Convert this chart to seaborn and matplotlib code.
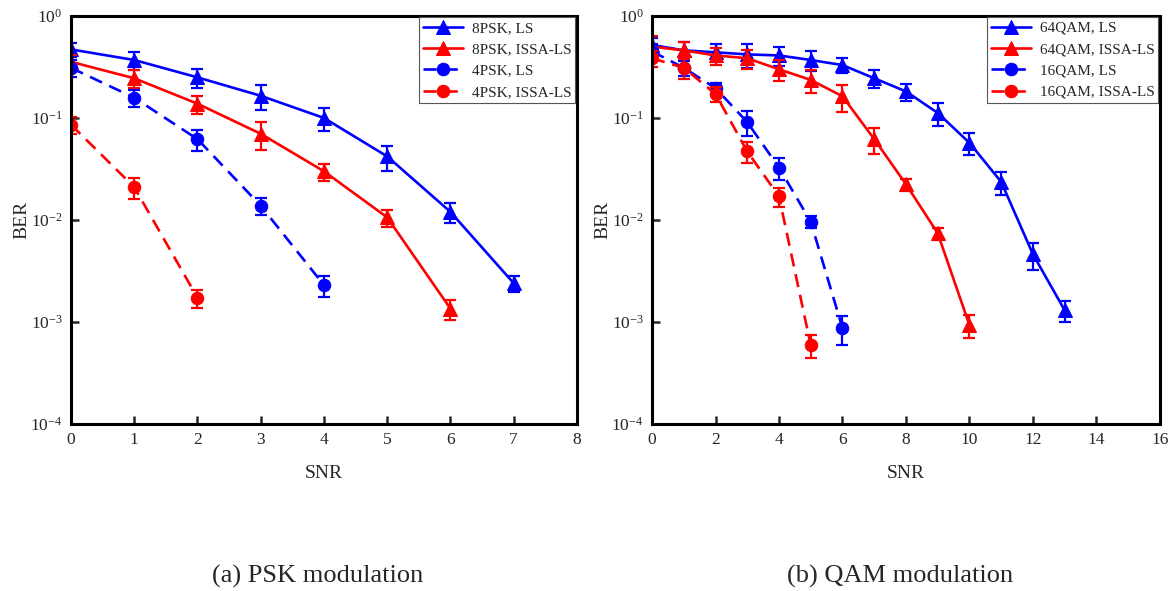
"""Two-panel BER vs SNR chart (PSK and QAM) with error bars, log y axis."""
import matplotlib

matplotlib.use("Agg")
import matplotlib.pyplot as plt  # noqa: E402
import matplotlib.ticker as mticker  # noqa: E402
import seaborn as sns  # noqa: E402

# ---- data -----------------------------------------------------------------
snr_8psk = [0, 1, 2, 3, 4, 5, 6, 7]
ber_8psk_ls = [0.47, 0.37, 0.25, 0.165, 0.10, 0.042, 0.0120, 0.0024]
err_8psk_ls = [0.075, 0.076, 0.055, 0.045, 0.025, 0.0115, 0.0026, 0.00045]
snr_8psk_issa = [0, 1, 2, 3, 4, 5, 6]
ber_8psk_issa = [0.355, 0.245, 0.138, 0.070, 0.030, 0.0106, 0.00135]
err_8psk_issa = [0.06, 0.047, 0.028, 0.021, 0.0057, 0.0020, 0.0003]

snr_4psk = [0, 1, 2, 3, 4]
ber_4psk_ls = [0.31, 0.158, 0.062, 0.0138, 0.0023]
err_4psk_ls = [0.06, 0.03, 0.015, 0.0026, 0.00055]
snr_4psk_issa = [0, 1, 2]
ber_4psk_issa = [0.086, 0.021, 0.00173]
err_4psk_issa = [0.017, 0.005, 0.00035]

snr_64qam = list(range(14))
ber_64qam_ls = [0.52, 0.46, 0.44, 0.42, 0.41, 0.37, 0.33, 0.245, 0.182,
                0.112, 0.057, 0.0236, 0.0046, 0.0013]
err_64qam_ls = [0.083, 0.09, 0.09, 0.11, 0.09, 0.08, 0.055, 0.05, 0.035,
                0.028, 0.014, 0.006, 0.0014, 0.0003]
snr_64qam_issa = list(range(11))
ber_64qam_issa = [0.50, 0.46, 0.41, 0.385, 0.30, 0.236, 0.163, 0.062,
                  0.0224, 0.0074, 0.00093]
err_64qam_issa = [0.14, 0.10, 0.08, 0.08, 0.07, 0.06, 0.048, 0.018,
                  0.003, 0.001, 0.00023]

snr_16qam = [0, 1, 2, 3, 4, 5, 6]
ber_16qam_ls = [0.45, 0.31, 0.196, 0.091, 0.0326, 0.0096, 0.00087]
err_16qam_ls = [0.08, 0.05, 0.025, 0.025, 0.008, 0.0013, 0.00027]
snr_16qam_issa = [0, 1, 2, 3, 4, 5]
ber_16qam_issa = [0.385, 0.31, 0.172, 0.047, 0.017, 0.00059]
err_16qam_issa = [0.07, 0.07, 0.028, 0.011, 0.0035, 0.00015]

BLUE = "#0000ff"
RED = "#ff0000"

sns.set_theme(style="ticks")
plt.rcParams["font.family"] = ["Liberation Serif", "DejaVu Serif"]
plt.rcParams["mathtext.fontset"] = "stix"


def draw_series(ax, x, y, err, color, marker, dashed, label):
    ms = 10 if marker == "^" else 9
    kw = dict(dashes=(5, 3)) if dashed else {}
    sns.lineplot(x=x, y=y, ax=ax, color=color, marker=marker, markersize=ms,
                 markeredgecolor=color, lw=1.9, label=label, **kw)
    ax.errorbar(x, y, yerr=err, fmt="none", ecolor=color, elinewidth=1.6,
                capsize=4, capthick=1.6)


def style_axes(ax, xmax, xstep):
    ax.set_yscale("log")
    ax.set_ylim(1e-4, 1)
    ax.set_xlim(0, xmax)
    ax.xaxis.set_major_locator(mticker.MultipleLocator(xstep))
    ax.yaxis.set_minor_locator(mticker.NullLocator())
    ax.tick_params(direction="in", length=6, width=1.8, labelsize=12.5, pad=6)
    for sp in ax.spines.values():
        sp.set_visible(True)
        sp.set_linewidth(2.2)
        sp.set_color("black")
    ax.set_xlabel("SNR", fontsize=14, labelpad=12)
    ax.set_ylabel("BER", fontsize=14, labelpad=0)
    ax.legend(loc="upper right", fontsize=11, frameon=True, fancybox=False,
              edgecolor="#555555", framealpha=1, borderaxespad=0.1,
              handlelength=2.6, handletextpad=0.6, borderpad=0.25,
              labelspacing=0.5)
    ax.legend_.get_frame().set_linewidth(0.8)
    ax.grid(False)


fig = plt.figure(figsize=(11.75, 5.91), dpi=100)
ax1 = fig.add_axes([0.0604, 0.2826, 0.4306, 0.6904])
ax2 = fig.add_axes([0.5549, 0.2826, 0.4323, 0.6904])

draw_series(ax1, snr_8psk, ber_8psk_ls, err_8psk_ls, BLUE, "^", False, "8PSK, LS")
draw_series(ax1, snr_8psk_issa, ber_8psk_issa, err_8psk_issa, RED, "^", False, "8PSK, ISSA-LS")
draw_series(ax1, snr_4psk, ber_4psk_ls, err_4psk_ls, BLUE, "o", True, "4PSK, LS")
draw_series(ax1, snr_4psk_issa, ber_4psk_issa, err_4psk_issa, RED, "o", True, "4PSK, ISSA-LS")
style_axes(ax1, 8, 1)

draw_series(ax2, snr_64qam, ber_64qam_ls, err_64qam_ls, BLUE, "^", False, "64QAM, LS")
draw_series(ax2, snr_64qam_issa, ber_64qam_issa, err_64qam_issa, RED, "^", False, "64QAM, ISSA-LS")
draw_series(ax2, snr_16qam, ber_16qam_ls, err_16qam_ls, BLUE, "o", True, "16QAM, LS")
draw_series(ax2, snr_16qam_issa, ber_16qam_issa, err_16qam_issa, RED, "o", True, "16QAM, ISSA-LS")
style_axes(ax2, 16, 2)

fig.text(0.2706, 0.024, "(a) PSK modulation", ha="center", va="center", fontsize=19)
fig.text(0.766, 0.024, "(b) QAM modulation", ha="center", va="center", fontsize=19)

fig.savefig("out.png", dpi=100)
